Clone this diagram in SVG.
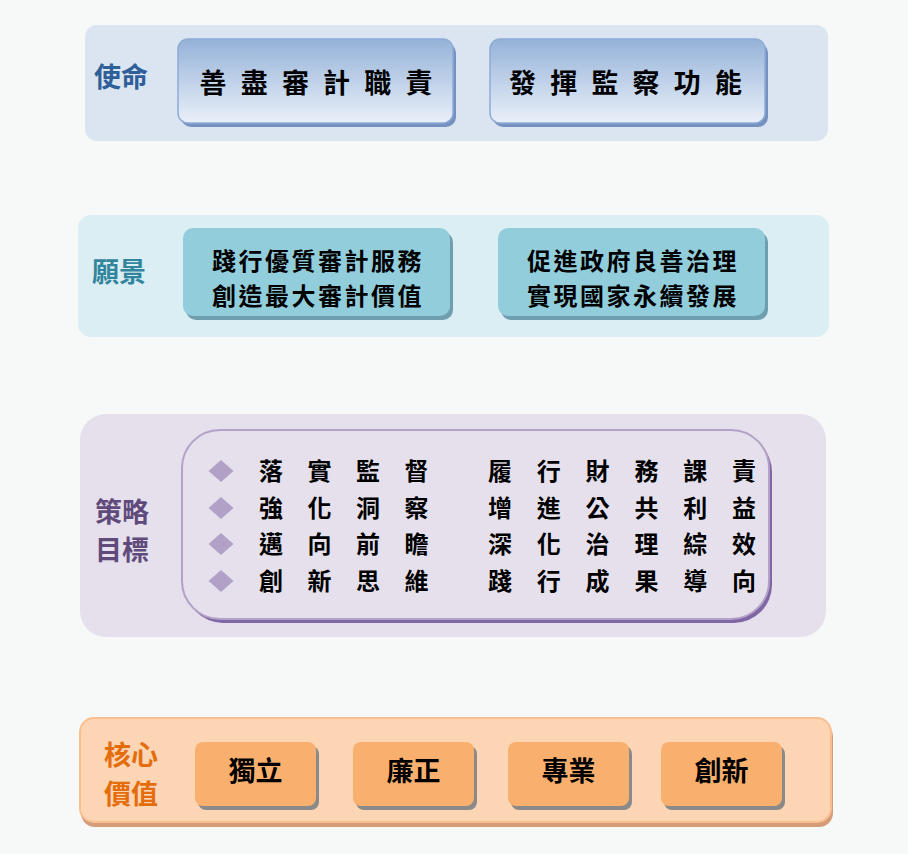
<svg xmlns="http://www.w3.org/2000/svg" width="908" height="854" viewBox="0 0 908 854">
<defs>
<linearGradient id="gBlue" x1="0" y1="0" x2="0" y2="1">
<stop offset="0" stop-color="#94b2d8"/>
<stop offset="1" stop-color="#eaf0f9"/>
</linearGradient>
<style>
.t{font-family:"Noto Sans CJK TC","Noto Sans CJK SC",sans-serif;font-weight:700;fill:#000;text-anchor:middle}
.lbl{font-family:"Noto Sans CJK TC","Noto Sans CJK SC",sans-serif;font-weight:700;text-anchor:middle;font-size:27px}
</style>
</defs>
<rect x="0" y="0" width="908" height="854" fill="#f7f9f9"/>

<g id="mission">
<rect x="85" y="25" width="743" height="116" rx="12" fill="#dbe5f1"/>
<text class="lbl" x="121" y="87" fill="#2e5f98">使命</text>
<g id="mission-1">
<rect x="181" y="43" width="275" height="84" rx="10" fill="#7491c0"/>
<rect x="178" y="39" width="275" height="84" rx="10" fill="url(#gBlue)" stroke="#8eabd6" stroke-width="1.5"/>
<text class="t" font-size="27" x="213 254.2 295.4 336.6 377.8 419" y="93">善盡審計職責</text>
</g>
<g id="mission-2">
<rect x="493" y="43" width="275" height="84" rx="10" fill="#7491c0"/>
<rect x="490" y="39" width="275" height="84" rx="10" fill="url(#gBlue)" stroke="#8eabd6" stroke-width="1.5"/>
<text class="t" font-size="27" x="522.5 563.7 604.9 646.1 687.3 728.5" y="93">發揮監察功能</text>
</g>
</g>

<g id="vision">
<rect x="78" y="215" width="751" height="122" rx="13" fill="#dbeef4"/>
<text class="lbl" x="119" y="282" fill="#31859c">願景</text>
<g id="vision-1">
<rect x="186" y="232" width="267" height="88" rx="10" fill="#6f9fae"/>
<rect x="183" y="228" width="267" height="88" rx="10" fill="#92cddc"/>
<text class="t" font-size="24" letter-spacing="2.5" x="318" y="270">踐行優質審計服務</text>
<text class="t" font-size="24" letter-spacing="2.5" x="318" y="305">創造最大審計價值</text>
</g>
<g id="vision-2">
<rect x="501" y="232" width="267" height="88" rx="10" fill="#6f9fae"/>
<rect x="498" y="228" width="267" height="88" rx="10" fill="#92cddc"/>
<text class="t" font-size="24" letter-spacing="2.5" x="633" y="270">促進政府良善治理</text>
<text class="t" font-size="24" letter-spacing="2.5" x="633" y="305">實現國家永續發展</text>
</g>
</g>

<g id="strategy">
<rect x="80" y="414" width="746" height="223" rx="26" fill="#e5e0ec"/>
<text class="lbl" x="122" y="522" fill="#604a7b">策略</text>
<text class="lbl" x="122" y="560" fill="#604a7b">目標</text>
<g id="strategy-list">
<rect x="185" y="434" width="587" height="189" rx="38" fill="#8066a4"/>
<rect x="182" y="430" width="587" height="189" rx="38" fill="#e5e0ec" stroke="#b3a2c8" stroke-width="2"/>
<g fill="#b2a1c7">
<polygon points="221,460 233.5,471 221,482 208.5,471"/>
<polygon points="221,497 233.5,508 221,519 208.5,508"/>
<polygon points="221,533 233.5,544 221,555 208.5,544"/>
<polygon points="221,570 233.5,581 221,592 208.5,581"/>
</g>
<g class="t" font-size="24">
<text x="271 319.5 368 416.5" y="480">落實監督</text>
<text x="500 548.8 597.6 646.4 695.2 744" y="480">履行財務課責</text>
<text x="271 319.5 368 416.5" y="517">強化洞察</text>
<text x="500 548.8 597.6 646.4 695.2 744" y="517">增進公共利益</text>
<text x="271 319.5 368 416.5" y="553">邁向前瞻</text>
<text x="500 548.8 597.6 646.4 695.2 744" y="553">深化治理綜效</text>
<text x="271 319.5 368 416.5" y="590">創新思維</text>
<text x="500 548.8 597.6 646.4 695.2 744" y="590">踐行成果導向</text>
</g>
</g>
</g>

<g id="core-values">
<rect x="81" y="723" width="752" height="104" rx="14" fill="#d49c78"/>
<rect x="80" y="718" width="751" height="104" rx="14" fill="#fcd5b5" stroke="#f9bf8f" stroke-width="2"/>
<text class="lbl" x="131" y="765" fill="#e46c0a">核心</text>
<text class="lbl" x="131" y="804" fill="#e46c0a">價值</text>
<g id="core-1">
<rect x="198" y="746" width="121" height="64" rx="8" fill="#8a8a8a"/>
<rect x="195" y="742" width="121" height="64" rx="8" fill="#f9b06e"/>
<text class="t" font-size="27" x="255.5" y="781">獨立</text>
</g>
<g id="core-2">
<rect x="356" y="746" width="121" height="64" rx="8" fill="#8a8a8a"/>
<rect x="353" y="742" width="121" height="64" rx="8" fill="#f9b06e"/>
<text class="t" font-size="27" x="413.5" y="781">廉正</text>
</g>
<g id="core-3">
<rect x="511" y="746" width="121" height="64" rx="8" fill="#8a8a8a"/>
<rect x="508" y="742" width="121" height="64" rx="8" fill="#f9b06e"/>
<text class="t" font-size="27" x="568.5" y="781">專業</text>
</g>
<g id="core-4">
<rect x="664" y="746" width="121" height="64" rx="8" fill="#8a8a8a"/>
<rect x="661" y="742" width="121" height="64" rx="8" fill="#f9b06e"/>
<text class="t" font-size="27" x="721.5" y="781">創新</text>
</g>
</g>
</svg>
